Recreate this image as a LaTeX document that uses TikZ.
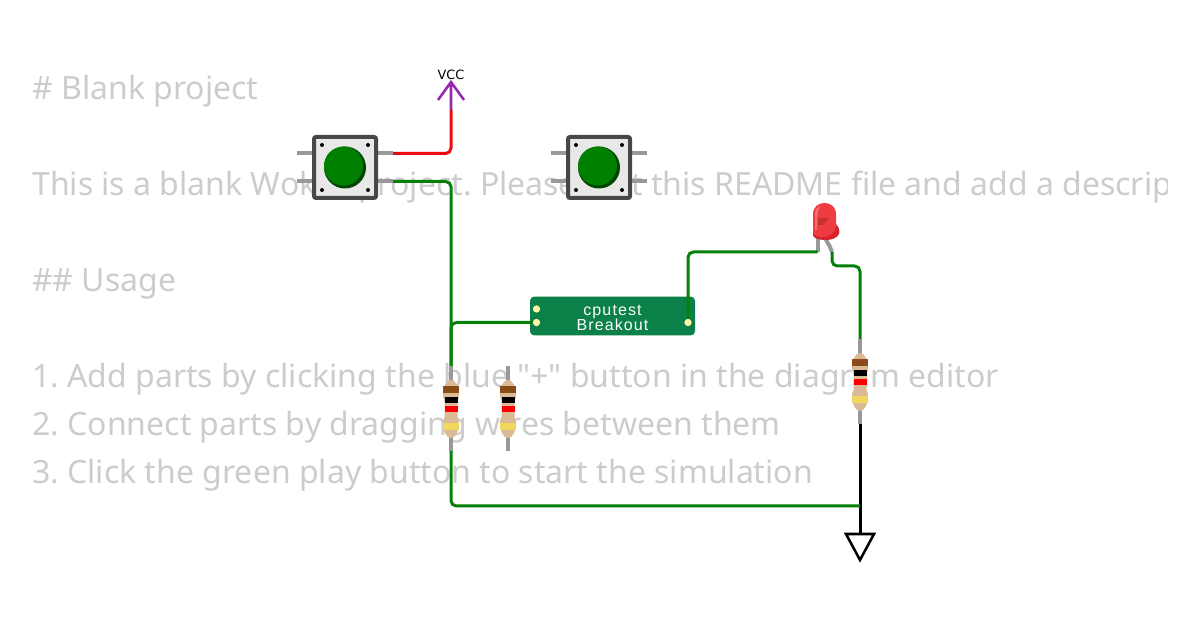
\documentclass[tikz,border=0pt]{standalone}
\usepackage{fontspec}
\newfontfamily\readmefont{Noto Sans}
\newfontfamily\partfont[LetterSpace=7]{Liberation Sans}
\newfontfamily\vccfont{DejaVu Sans}
\frenchspacing
\definecolor{wiregreen}{RGB}{5,128,10}
\definecolor{wirered}{RGB}{235,10,15}
\definecolor{vccpurple}{RGB}{150,40,175}
\definecolor{readmegray}{RGB}{204,204,204}
\definecolor{leadgray}{RGB}{153,153,153}
\definecolor{resbody}{RGB}{219,186,152}
\definecolor{resbrown}{RGB}{139,75,25}
\definecolor{resyellow}{RGB}{240,216,96}
\definecolor{boardgreen}{RGB}{11,128,72}
\definecolor{padyellow}{RGB}{255,246,170}
\definecolor{ledlight}{RGB}{238,60,66}
\definecolor{ledshine}{RGB}{246,110,114}
\definecolor{leddark}{RGB}{214,36,44}
\definecolor{ledspot}{RGB}{200,50,45}
\definecolor{capdark}{RGB}{0,70,0}
\definecolor{capgreen}{RGB}{0,128,0}
\tikzset{
  readme/.style={anchor=base west,inner sep=0pt,text=readmegray,font=\readmefont\fontsize{24}{28}\selectfont},
  wire/.style={line width=2.25pt,rounded corners=4pt},
  lead/.style={draw=leadgray,line width=3pt},
  board/.style={fill=boardgreen,rounded corners=3pt,minimum width=123.75pt,minimum height=29pt,inner sep=0pt},
  boardtext/.style={inner sep=0pt,text=white,font=\partfont\fontsize{12}{12}\selectfont},
  pad/.style={circle,fill=padyellow,inner sep=0pt,minimum size=5.5pt},
  % pics keep y pointing up
  pics/pushbutton/.style={code={
    \draw [lead] (-48,14) -- (-32,14) (-48,-14) -- (-32,-14) (32,14) -- (48,14) (32,-14) -- (48,-14);
    \draw [draw=black!72,line width=3pt,fill=black!9,rounded corners=1.5pt] (-31,-30.5) rectangle (31,30.5);
    \fill [black] (-23,22.5) circle (2) (23,22.5) circle (2) (-23,-22.5) circle (2) (23,-22.5) circle (2);
    \fill [capdark] (0,0) circle (21);
    \fill [capgreen] (-1.5,1.5) circle (19.5);
    \coordinate (-a) at (48,14);
    \coordinate (-b) at (48,-14);
  }},
  pics/resistor/.style={code={
    \draw [lead] (0,43) -- (0,-42);
    \fill [resbody] (-8,12) .. controls (-8,22) and (-5,29) .. (0,29) .. controls (5,29) and (8,22) .. (8,12) -- (6.5,8) -- (6.5,-8) -- (8,-12) .. controls (8,-22) and (5,-29) .. (0,-29) .. controls (-5,-29) and (-8,-22) .. (-8,-12) -- (-6.5,-8) -- (-6.5,8) -- cycle;
    \fill [resbrown] (-8,22.5) rectangle (8,15.5);
    \fill [black] (-6.5,12) rectangle (6.5,6);
    \fill [red] (-6.5,2.5) rectangle (6.5,-3);
    \fill [resyellow] (-8,-14) rectangle (8,-21);
    \coordinate (-top) at (0,43);
    \coordinate (-bot) at (0,-42);
  }},
}

\begin{document}
\begin{tikzpicture}[x=0.75pt,y=0.75pt,yscale=-1,xscale=1]
\useasboundingbox (0,0) rectangle (1200,630);

% README text
\begin{scope}
\clip (0,0) rectangle (1167,630);
\node [readme] (title) at (32,100) {\# Blank project};
\node [readme] (intro) at (32,196) {This is a blank Wokwi project. Please edit this README file and add a description};
\node [readme] (usage) at (32,292) {\#\# Usage};
\node [readme] (stepOne) at (32,388) {1. Add parts by clicking the blue "+" button in the diagram editor};
\node [readme] (stepTwo) at (32,436) {2. Connect parts by dragging wires between them};
\node [readme] (stepThree) at (32,484) {3. Click the green play button to start the simulation};
\end{scope}

% Buttons
\pic (btnOne) at (345,167.5) {pushbutton};
\pic (btnTwo) at (599,167.5) {pushbutton};

% Resistors
\pic (resOne) at (451,409) {resistor};
\pic (resTwo) at (508,409) {resistor};
\pic (resThree) at (860,382) {resistor};

% Breakout
\node [board] (brk) at (612.5,316) {};
\node [boardtext] (brkTop) at (612.5,311.5) {cputest};
\node [boardtext] (brkBot) at (612.5,324.5) {Breakout};
\node [pad] (padA) at (536.5,309) {};
\node [pad] (padB) at (536.5,322.5) {};
\node [pad] (padC) at (688,322.5) {};

% LED
\coordinate (ledA) at (817.5,252);
\coordinate (ledK) at (832,252);
\draw [lead] (817.5,236) -- (ledA);
\draw [lead] (824,236) -- (830,247) -- (ledK);
\fill [leddark] (813,224) -- (836,224) .. controls (839,227) and (840,231) .. (839,234) .. controls (837,238) and (832,240) .. (826,240) .. controls (818,240) and (813,238) .. (813,235) -- cycle;
\fill [ledlight] (813,232) -- (813,214.5) .. controls (813,207) and (818,203) .. (824.5,203) .. controls (831,203) and (836,207) .. (836,214.5) -- (836,226) .. controls (835,233) and (829,237) .. (824,237) .. controls (819,237) and (814,236) .. (813,232) -- cycle;
\fill [ledshine] (815,230) -- (815,214) .. controls (815,210) and (817,207) .. (820,206) .. controls (818,210) and (817,214) .. (817,230) -- cycle;
\fill [ledspot] (818,218) -- (829,218) -- (823,225) -- (818,225) -- cycle;

% VCC and ground
\node [inner sep=0pt,font=\vccfont\fontsize{9.6}{10}\selectfont] (vccLabel) at (451,75) {VCC};
\coordinate (vccTip) at (451,82);
\coordinate (vccPin) at (451,110);
\draw [vccpurple,line width=1.9pt] (438,100) -- (vccTip) -- (464,100) (vccTip) -- (vccPin);
\coordinate (gndTop) at (860,534);
\coordinate (gndJoin) at (860,506);
\draw [line width=1.9pt,line join=miter,fill=white] (846,534) -- (874,534) -- (860,560) -- cycle;

% Wires
\draw [wire,wirered] (btnOne-a) -| (vccPin);
\draw [wire,wiregreen] (btnOne-b) -| (resOne-top);
\draw [wire,wiregreen] (padB) -| (resOne-top);
\draw [wire,wiregreen] (padC) |- (ledA);
\draw [wire,wiregreen] (ledK) -- ++(0,14) -| (resThree-top);
\draw [wire,black] (resThree-bot) -- (gndTop);
\draw [wire,wiregreen] (resOne-bot) |- (gndJoin);

\end{tikzpicture}
\end{document}
